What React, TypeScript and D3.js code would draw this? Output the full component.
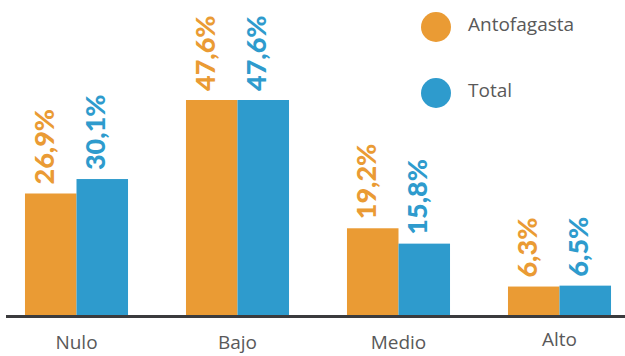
import React from "react";
import * as d3 from "d3";

const categories = ["Nulo", "Bajo", "Medio", "Alto"];
const seriesNames = ["Antofagasta", "Total"];
const antofagasta = [26.9, 47.6, 19.2, 6.3];
const total = [30.1, 47.6, 15.8, 6.5];
const colors = ["#EA9B34", "#2E9BCD"];

const W = 625;
const H = 356;

export default function App() {
  const x = d3.scaleBand<string>().domain(categories).range([-4, 640]).paddingInner(0.36).paddingOuter(0.18);
  const inner = d3.scaleBand<string>().domain(seriesNames).range([0, x.bandwidth()]).padding(0);
  const y = d3.scaleLinear().domain([0, 47.6]).range([315, 100]);
  const series = [antofagasta, total];
  const fmt = (v: number) => v.toFixed(1).replace(".", ",") + "%";

  return (
    <svg width={W} height={H} style={{ position: "absolute", left: 0, top: 0 }}>
      <rect width={W} height={H} fill="#fff" />
      {categories.map((c, i) =>
        seriesNames.map((s, j) => {
          const v = series[j][i];
          const bx = (x(c) ?? 0) + (inner(s) ?? 0);
          const bw = inner.bandwidth();
          const top = y(v);
          const cx = bx + bw / 2 + 3;
          return (
            <g key={c + s}>
              <rect x={bx} y={top} width={bw} height={y(0) - top} fill={colors[j]} />
              <text
                transform={`translate(${cx},${top - 9}) rotate(-90)`}
                fill={colors[j]}
                fontFamily="Lato, 'Open Sans', sans-serif"
                fontWeight="900"
                fontSize={27}
              >
                {fmt(v)}
              </text>
            </g>
          );
        })
      )}
      <line x1={6} x2={625} y1={316.5} y2={316.5} stroke="#3B3B3D" strokeWidth={3} />
      {categories.map((c, i) => (
        <text
          key={c}
          x={(x(c) ?? 0) + x.bandwidth() / 2}
          y={i === 3 ? 346 : 349}
          textAnchor="middle"
          fill="#595959"
          fontFamily="'Open Sans', sans-serif"
          fontSize={19}
        >
          {c}
        </text>
      ))}
      {seriesNames.map((s, j) => (
        <g key={s} transform={`translate(436,${27 + j * 66})`}>
          <circle r={15} fill={colors[j]} />
          <text x={32} y={4} fill="#595959" fontFamily="'Open Sans', sans-serif" fontSize={19}>
            {s}
          </text>
        </g>
      ))}
    </svg>
  );
}
